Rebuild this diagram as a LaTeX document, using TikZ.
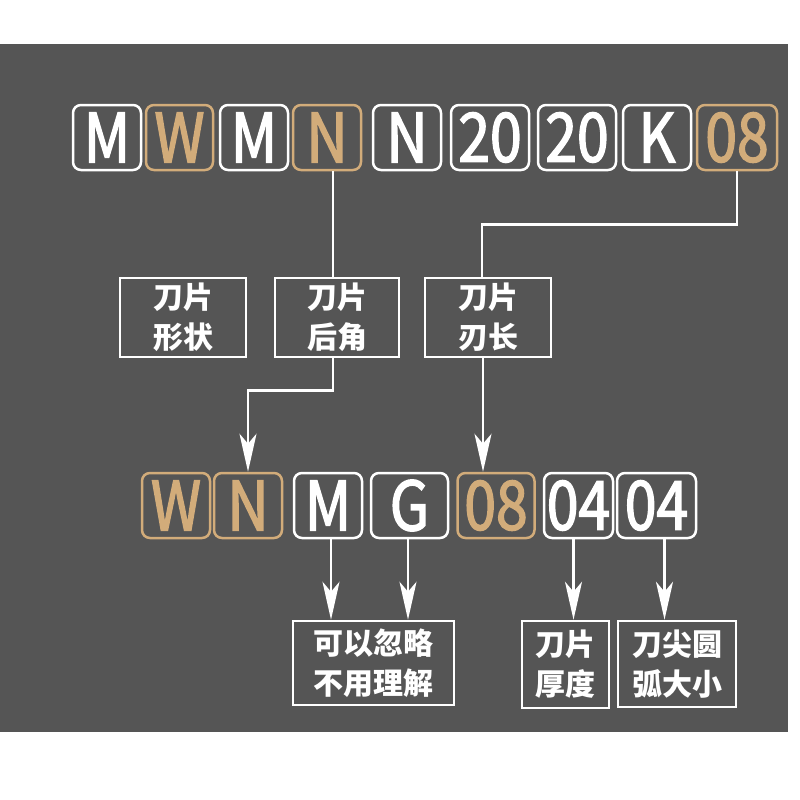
\documentclass[tikz,border=0pt]{standalone}
\usepackage{fontspec}
\setmainfont{Noto Sans CJK SC}
\newfontfamily\codefont{Noto Sans CJK SC}[FakeStretch=0.84, FakeBold=2]
\usetikzlibrary{arrows.meta}
\definecolor{bggray}{RGB}{85,85,85}
\definecolor{codegold}{RGB}{210,172,122}
\tikzset{
  letter/.style={draw=white, text=white, line width=2.5pt, rounded corners=8pt,
    minimum height=65pt, inner sep=0pt, font=\codefont\fontsize{68}{68}\selectfont},
  gold/.style={letter, draw=codegold, text=codegold},
  namebox/.style={draw=white, text=white, line width=2.5pt, inner sep=0pt,
    align=center, font=\bfseries\fontsize{30}{40}\selectfont},
  link/.style={white, line width=2.5pt},
  arrowlink/.style={link, -{Stealth[length=38pt,width=17pt,inset=10pt]}},
}
\begin{document}
\begin{tikzpicture}[x=1pt, y=-1pt]
  % background
  \useasboundingbox[fill=white] (0,0) rectangle (800,800);
  \fill[bggray] (0,44) rectangle (788,732);
  % holder code
  \node[letter, minimum width=68pt] (tM1) at (107,137.5) {M};
  \node[gold, minimum width=67pt] (tW) at (179.5,137.5) {W};
  \node[letter, minimum width=68pt] (tM2) at (254,137.5) {M};
  \node[gold, minimum width=68pt] (tN1) at (327,137.5) {N};
  \node[letter, minimum width=68pt] (tN2) at (407,137.5) {N};
  \node[letter, minimum width=78pt] (t20a) at (490,137.5) {20};
  \node[letter, minimum width=78pt] (t20b) at (577,137.5) {20};
  \node[letter, minimum width=68pt] (tK) at (657,137.5) {K};
  \node[gold, minimum width=80pt] (t08) at (737,137.5) {08};
  % meaning boxes
  \node[namebox, minimum width=126pt, minimum height=79pt] (mShape) at (183,317.5) {刀片\\形状};
  \node[namebox, minimum width=124pt, minimum height=79pt] (mRear) at (337,317.5) {刀片\\后角};
  \node[namebox, minimum width=126pt, minimum height=79pt] (mEdge) at (488,317.5) {刀片\\刃长};
  % insert code
  \node[gold, minimum width=68pt] (bW) at (176,505.5) {W};
  \node[gold, minimum width=68pt] (bN) at (248,505.5) {N};
  \node[letter, minimum width=68pt] (bM) at (328,505.5) {M};
  \node[letter, minimum width=77pt] (bG) at (409.5,505.5) {G};
  \node[gold, minimum width=77pt] (b08) at (496,505.5) {08};
  \node[letter, minimum width=69pt] (b04a) at (578.5,505.5) {04};
  \node[letter, minimum width=79pt] (b04b) at (656.5,505.5) {04};
  % bottom boxes
  \node[namebox, minimum width=161pt, minimum height=84pt] (bIgnore) at (373.5,663) {可以忽略\\不用理解};
  \node[namebox, minimum width=87pt, minimum height=87pt] (bThick) at (565.5,664.5) {刀片\\厚度};
  \node[namebox, minimum width=118pt, minimum height=86pt] (bRadius) at (677,664) {刀尖圆\\弧大小};
  % lines
  \draw[link] ([xshift=6pt]tN1.south) -- ([xshift=6pt]tN1.south |- mRear.north);
  \draw[link] (t08.south) -- ++(0,53) -| ([xshift=-6pt]mEdge.north);
  \draw[arrowlink] ([xshift=-4pt]mRear.south) -- ++(0,32) -| (bN.north);
  \draw[arrowlink] ([xshift=-5pt]mEdge.south) -- ([xshift=-5pt]mEdge.south |- b08.north);
  \draw[arrowlink] ([xshift=3pt]bM.south) -- ([xshift=3pt]bM.south |- bIgnore.north);
  \draw[arrowlink] ([xshift=-1.5pt]bG.south) -- ([xshift=-1.5pt]bG.south |- bIgnore.north);
  \draw[arrowlink] ([xshift=-5pt]b04a.south) -- ([xshift=-5pt]b04a.south |- bThick.north);
  \draw[arrowlink] ([xshift=8pt]b04b.south) -- ([xshift=8pt]b04b.south |- bRadius.north);
\end{tikzpicture}
\end{document}
